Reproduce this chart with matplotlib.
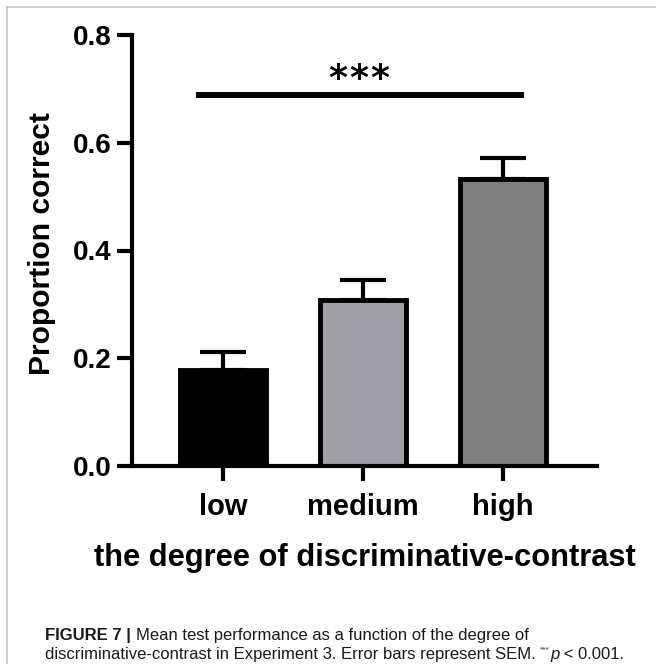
import matplotlib
matplotlib.use('Agg')
import matplotlib.pyplot as plt
from matplotlib.lines import Line2D
import numpy as np

# ---- data ----
categories = ['low', 'medium', 'high']
means = [0.179, 0.309, 0.5325]
sem = [0.033, 0.036, 0.039]
bar_colors = ['#000000', '#a09fa5', '#808080']
yticks = [0.0, 0.2, 0.4, 0.6, 0.8]
ytick_labels = ['0.0', '0.2', '0.4', '0.6', '0.8']
sig_star = '*'
sig_y = 0.688
sig_span = [-0.19, 2.15]
ylabel = 'Proportion correct'
xlabel = 'the degree of discriminative-contrast'
caption_bold = 'FIGURE 7 | '
caption_line1 = 'Mean test performance as a function of the degree of'
caption_line2a = 'discriminative-contrast in Experiment 3. Error bars represent SEM. '
caption_line2b = '***'
caption_line2c = 'p'
caption_line2d = ' < 0.001.'

plt.rcParams['font.family'] = ['Liberation Sans', 'DejaVu Sans']

W, H = 656, 664
fig = plt.figure(figsize=(W / 100, H / 100), dpi=100)
ax = fig.add_axes([131.5 / W, (H - 466) / H, 465.8 / W, 431 / H])

x = np.arange(len(categories))
ax.errorbar(x, means, yerr=[np.zeros(len(sem)), sem], fmt='none', ecolor='black',
            elinewidth=3, capsize=16.5, capthick=3, zorder=1, clip_on=False)
ax.bar(x, means, width=0.62, color=bar_colors, edgecolor='black', linewidth=3.5, zorder=2)

ax.set_xlim(-0.654, 2.674)
ax.set_ylim(0, 0.8)
ax.set_xticks(x)
ax.set_xticklabels(categories, fontsize=21, fontweight='bold')
ax.set_yticks(yticks)
ax.set_yticklabels(ytick_labels, fontsize=20, fontweight='bold')
for s in ['top', 'right']:
    ax.spines[s].set_visible(False)
for s in ['left', 'bottom']:
    ax.spines[s].set_linewidth(3)
ax.tick_params(axis='both', width=3, length=10.8, direction='out', color='black')
ax.tick_params(axis='x', pad=8.6)
ax.tick_params(axis='y', pad=3.6)

ax.set_xlabel(xlabel, fontsize=22.2, fontweight='bold', va='baseline')
ax.xaxis.set_label_coords(0.5, (466 - 566) / 431)
ax.set_ylabel(ylabel, fontsize=21.6, fontweight='bold', va='center', ha='center')
ax.yaxis.set_label_coords((41.7 - 131.5) / 465.8, (466 - 244) / 431)

# significance bar and stars
ax.plot(sig_span, [sig_y, sig_y], color='black', lw=4.3, solid_capstyle='butt', clip_on=False)
for dx in (-21, 0, 21):
    ax.annotate(sig_star, xy=(0.969, 0.700), xytext=(dx, 0), textcoords='offset pixels',
                ha='center', va='baseline', fontsize=26, fontweight='bold',
                family='DejaVu Sans', annotation_clip=False)

# frame lines
border = '#c4c4c4'
fig.add_artist(Line2D([7.3 / W, 1.0], [1 - 6.7 / H, 1 - 6.7 / H], color=border, lw=1.1,
                      transform=fig.transFigure))
fig.add_artist(Line2D([7.3 / W, 7.3 / W], [1 - 6.7 / H, 0.0], color=border, lw=1.1,
                      transform=fig.transFigure))

# caption
cap_color = '#1a1a1a'
t1 = fig.text(45 / W, (H - 640) / H, caption_bold, fontsize=12, fontweight='bold',
              va='baseline', ha='left', color=cap_color)
ax.annotate(caption_line1, xy=(1, 0), xycoords=t1, va='bottom', ha='left',
            fontsize=12, fontweight='normal', color=cap_color, annotation_clip=False)
t2a = fig.text(45 / W, (H - 659) / H, caption_line2a, fontsize=12, fontweight='normal',
               va='baseline', ha='left', color=cap_color)
t2b = ax.annotate(caption_line2b, xy=(1, 0), xycoords=t2a, xytext=(0, 10.5),
                  textcoords='offset pixels', va='baseline', ha='left', fontsize=6,
                  fontweight='normal', color=cap_color, annotation_clip=False)
t2c = ax.annotate(caption_line2c, xy=(1, 0), xycoords=(t2b, t2a), va='bottom', ha='left',
                  fontsize=12, fontstyle='italic', fontweight='normal', color=cap_color,
                  annotation_clip=False)
ax.annotate(caption_line2d, xy=(1, 0), xycoords=(t2c, t2a), va='bottom', ha='left',
            fontsize=12, fontweight='normal', color=cap_color, annotation_clip=False)

fig.savefig('out.png', dpi=100)
